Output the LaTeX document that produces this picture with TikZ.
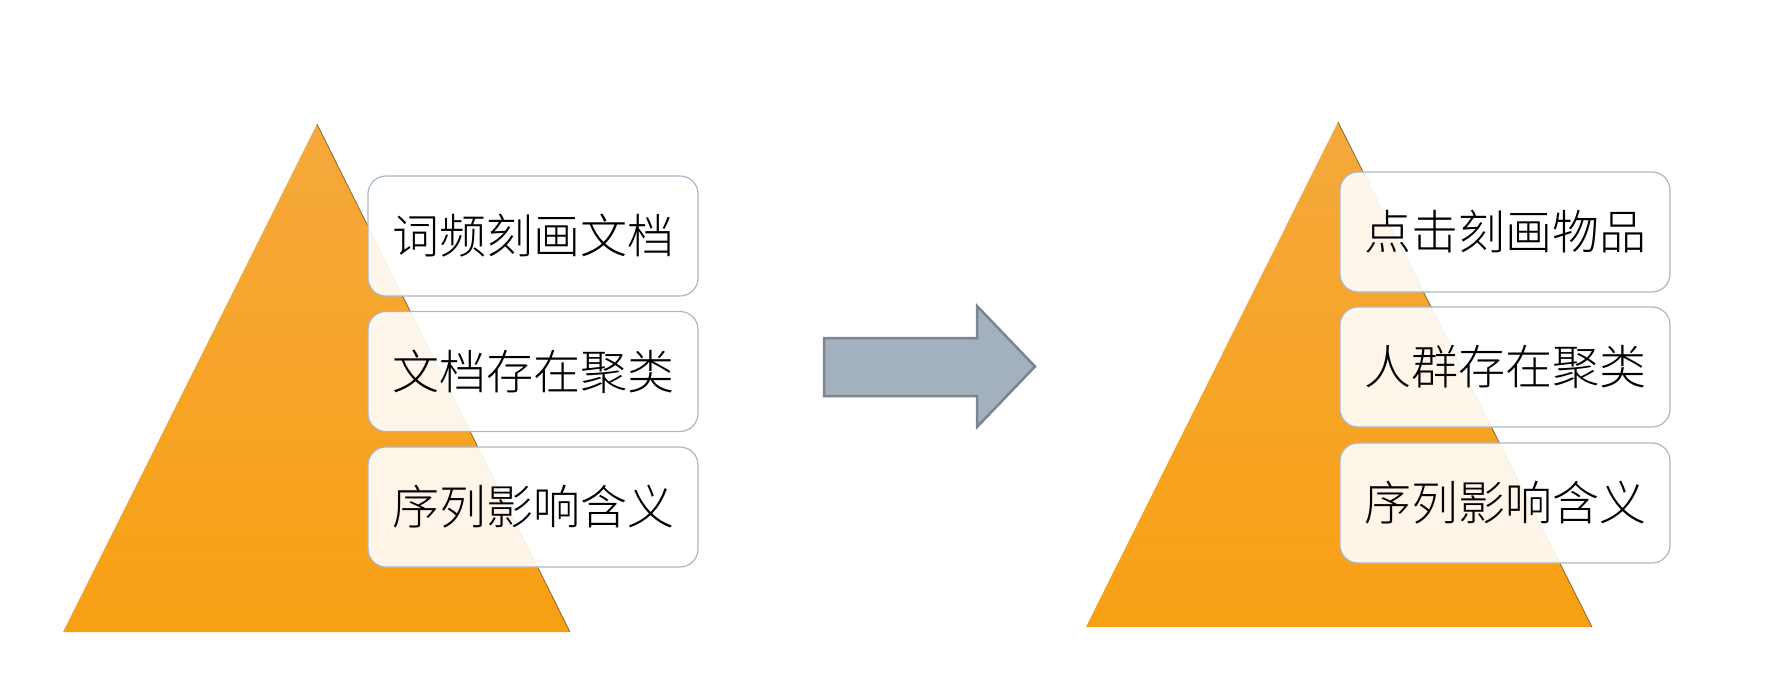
\documentclass[tikz,border=0pt]{standalone}
\usepackage{fontspec}
\newfontfamily\cjk{Noto Sans CJK SC Light}
\definecolor{triTop}{HTML}{F5A83C}
\definecolor{triBot}{HTML}{F8A013}
\definecolor{boxLine}{HTML}{A9B8C8}
\definecolor{arrFill}{HTML}{A3B1BF}
\definecolor{arrLine}{HTML}{7B8591}
\tikzset{
  tri/.style={top color=triTop, bottom color=triBot, draw=none},
  triedge/.style={draw=black!70!brown, line width=0.8pt, opacity=0.6},
  lbl/.style={draw=boxLine, line width=1.2pt, fill=white, fill opacity=0.9, text opacity=1,
    rounded corners=18pt, minimum width=330pt, minimum height=120pt, inner sep=0pt,
    font=\cjk\fontsize{47}{47}\selectfont, text=black},
  bigarrow/.style={fill=arrFill, draw=arrLine, line width=2.5pt, line join=miter}
}
\begin{document}
\begin{tikzpicture}[x=1pt,y=-1pt]
\useasboundingbox (0,0) rectangle (1777,686);
% left pyramid
\coordinate (LA) at (317,124);
\coordinate (LL) at (63,632);
\coordinate (LR) at (570,632);
\path[tri] (LA) -- (LR) -- (LL) -- cycle;
\draw[triedge] (LA) -- (LR);
% right pyramid
\coordinate (RA) at (1338,122);
\coordinate (RL) at (1086,627);
\coordinate (RR) at (1592,627);
\path[tri] (RA) -- (RR) -- (RL) -- cycle;
\draw[triedge] (RA) -- (RR);
% left boxes
\node[lbl] (l1) at (533,236) {词频刻画文档};
\node[lbl] (l2) at (533,371.5) {文档存在聚类};
\node[lbl] (l3) at (533,507) {序列影响含义};
% right boxes
\node[lbl] (r1) at (1505,232) {点击刻画物品};
\node[lbl] (r2) at (1505,367) {人群存在聚类};
\node[lbl] (r3) at (1505,503) {序列影响含义};
% arrow
\draw[bigarrow] (824,338) -- (977,338) -- (977,306) -- (1035,366.5) -- (977,427) -- (977,396) -- (824,396) -- cycle;
\end{tikzpicture}
\end{document}
